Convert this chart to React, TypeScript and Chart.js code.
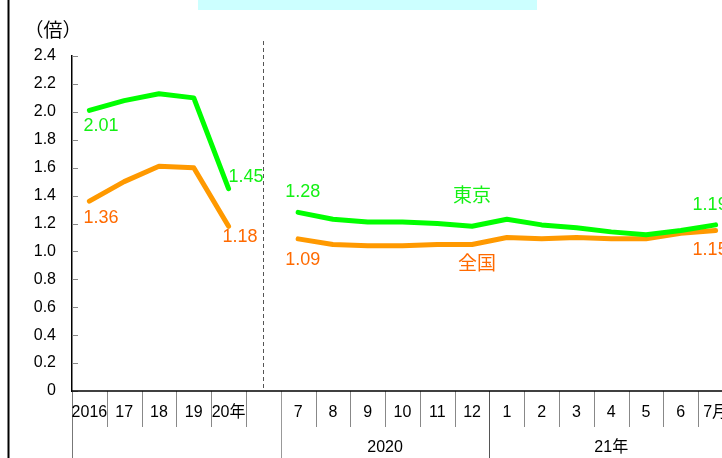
import React, { useEffect, useRef } from "react";
import { Chart, registerables } from "chart.js";

Chart.register(...registerables);

const categories = ["2016", "17", "18", "19", "20年", "", "7", "8", "9", "10", "11", "12", "1", "2", "3", "4", "5", "6", "7月"];
const tokyo: (number | null)[] = [2.01, 2.08, 2.13, 2.10, 1.45, null, 1.28, 1.23, 1.21, 1.21, 1.20, 1.18, 1.23, 1.19, 1.17, 1.14, 1.12, 1.15, 1.19];
const national: (number | null)[] = [1.36, 1.50, 1.61, 1.60, 1.18, null, 1.09, 1.05, 1.04, 1.04, 1.05, 1.05, 1.10, 1.09, 1.10, 1.09, 1.09, 1.13, 1.15];
const groupLabels = ["2020", "21年"];
const groupStarts = [6, 12];
const groupEnds = [12, 19];
const gapIndex = 5;
const yMin = 0;
const yMax = 2.4;
const yStep = 0.2;
const unitLabel = "（倍）";
const seriesNames = ["東京", "全国"];

const GREEN = "#00FF00";
const ORANGE = "#FF9900";
const GREEN_TEXT = "#14F014";
const ORANGE_TEXT = "#FF6A00";
const NUM_FONT = '"Liberation Sans", "Noto Sans CJK JP", sans-serif';
const CJK_FONT = '"Noto Sans CJK JP", "Liberation Sans", sans-serif';

const decorPlugin = {
  id: "decor",
  afterDraw(chart: any) {
    const ctx: CanvasRenderingContext2D = chart.ctx;
    const xs = chart.scales.x;
    const ys = chart.scales.y;
    const area = chart.chartArea;
    const W = chart.width;
    const H = chart.height;
    const step = xs.getPixelForValue(1) - xs.getPixelForValue(0);
    const boundary = (i: number) => xs.getPixelForValue(0) - step / 2 + i * step;
    ctx.save();

    // frame line at left
    ctx.fillStyle = "#000";
    ctx.fillRect(7.5, 0, 2, H);

    // cyan title box cut at top
    ctx.fillStyle = "#CCFFFF";
    ctx.fillRect(198, 0, 339, 10);

    // unit label
    ctx.fillStyle = "#000";
    ctx.font = "19px " + CJK_FONT;
    ctx.textAlign = "center";
    ctx.textBaseline = "middle";
    ctx.fillText(unitLabel, 53, 30);

    // inward y ticks
    ctx.strokeStyle = "#888";
    ctx.lineWidth = 1;
    for (let v = yMin; v <= yMax + 1e-9; v += yStep) {
      const py = Math.round(ys.getPixelForValue(v)) + 0.5;
      ctx.beginPath();
      ctx.moveTo(area.left, py);
      ctx.lineTo(area.left + 6, py);
      ctx.stroke();
    }

    // dashed separator line
    const gx = Math.round(xs.getPixelForValue(gapIndex)) + 0.5;
    ctx.strokeStyle = "#555";
    ctx.setLineDash([4, 3]);
    ctx.beginPath();
    ctx.moveTo(gx, 41);
    ctx.lineTo(gx, area.bottom);
    ctx.stroke();
    ctx.setLineDash([]);

    // category separators
    const n = categories.length;
    const longIdx = [0, ...groupStarts];
    for (let i = 0; i <= n; i++) {
      const bx = Math.round(boundary(i)) + 0.5;
      const isLong = longIdx.includes(i);
      ctx.strokeStyle = isLong ? (i === 0 ? "#777" : i === groupStarts[1] ? "#555" : "#999") : "#888";
      ctx.beginPath();
      ctx.moveTo(bx, area.bottom);
      ctx.lineTo(bx, isLong ? H : area.bottom + 36);
      ctx.stroke();
    }

    // x axis line
    ctx.strokeStyle = "#000";
    ctx.lineWidth = 1.5;
    ctx.beginPath();
    ctx.moveTo(area.left, area.bottom);
    ctx.lineTo(W, area.bottom);
    ctx.stroke();

    // category labels
    ctx.fillStyle = "#000";
    ctx.font = "16px " + NUM_FONT;
    ctx.textAlign = "center";
    for (let i = 0; i < n; i++) {
      if (!categories[i]) continue;
      ctx.fillText(categories[i], xs.getPixelForValue(i), area.bottom + 22);
    }
    for (let g = 0; g < groupLabels.length; g++) {
      const cx = (boundary(groupStarts[g]) + boundary(groupEnds[g])) / 2;
      ctx.fillText(groupLabels[g], cx, area.bottom + 57);
    }

    // data labels
    const px = (i: number) => xs.getPixelForValue(i);
    const py = (v: number) => ys.getPixelForValue(v);
    ctx.font = "18px " + NUM_FONT;
    ctx.textAlign = "left";
    const put = (text: string, color: string, x: number, y: number) => {
      ctx.fillStyle = color;
      ctx.fillText(text, x, y);
    };
    const last = n - 1;
    put((tokyo[0] as number).toFixed(2), GREEN_TEXT, px(0) - 6, py(tokyo[0] as number) + 16);
    put((national[0] as number).toFixed(2), ORANGE_TEXT, px(0) - 6, py(national[0] as number) + 17);
    put((tokyo[4] as number).toFixed(2), GREEN_TEXT, px(4), py(tokyo[4] as number) - 12);
    put((national[4] as number).toFixed(2), ORANGE_TEXT, px(4) - 6, py(national[4] as number) + 11);
    put((tokyo[6] as number).toFixed(2), GREEN_TEXT, px(6) - 13, py(tokyo[6] as number) - 20);
    put((national[6] as number).toFixed(2), ORANGE_TEXT, px(6) - 13, py(national[6] as number) + 21);
    put((tokyo[last] as number).toFixed(2), GREEN_TEXT, px(last) - 23, py(tokyo[last] as number) - 20);
    put((national[last] as number).toFixed(2), ORANGE_TEXT, px(last) - 23, py(national[last] as number) + 20);

    ctx.font = "19px " + CJK_FONT;
    ctx.textAlign = "center";
    put(seriesNames[0], GREEN_TEXT, px(11), py(tokyo[11] as number) - 32);
    put(seriesNames[1], ORANGE_TEXT, px(11) + 5, py(national[11] as number) + 18);

    ctx.restore();
  },
};

export default function App() {
  const ref = useRef<HTMLCanvasElement | null>(null);
  useEffect(() => {
    if (!ref.current) return;
    const chart = new Chart(ref.current, {
      type: "line",
      data: {
        labels: categories,
        datasets: [
          {
            label: seriesNames[0],
            data: tokyo,
            borderColor: GREEN,
            backgroundColor: GREEN,
            borderWidth: 5,
            pointRadius: 0,
            tension: 0,
            spanGaps: false,
            borderCapStyle: "round",
            borderJoinStyle: "round",
          },
          {
            label: seriesNames[1],
            data: national,
            borderColor: ORANGE,
            backgroundColor: ORANGE,
            borderWidth: 5,
            pointRadius: 0,
            tension: 0,
            spanGaps: false,
            borderCapStyle: "round",
            borderJoinStyle: "round",
          },
        ],
      },
      options: {
        responsive: false,
        maintainAspectRatio: false,
        animation: false,
        devicePixelRatio: 1,
        layout: { padding: { left: 0, right: 27, top: 56, bottom: 67 } },
        plugins: {
          legend: { display: false },
          tooltip: { enabled: false },
          title: { display: false },
        },
        scales: {
          x: {
            type: "category",
            offset: true,
            display: false,
          },
          y: {
            min: yMin,
            max: yMax,
            afterFit: (s: any) => {
              s.width = 72;
            },
            ticks: {
              stepSize: yStep,
              padding: 16,
              color: "#000",
              font: { family: NUM_FONT, size: 16 },
              callback: (v: any) => (Number(v) === 0 ? "0" : Number(v).toFixed(1)),
            },
            grid: { display: false, drawTicks: false },
            border: { display: true, color: "#000", width: 1.5 },
          },
        },
      },
      plugins: [decorPlugin],
    });
    return () => chart.destroy();
  }, []);

  return (
    <div style={{ position: "fixed", left: 0, top: 0, width: 722, height: 458, overflow: "hidden", background: "#fff" }}>
      <canvas ref={ref} width={760} height={458} style={{ display: "block", width: 760, height: 458 }} />
    </div>
  );
}
